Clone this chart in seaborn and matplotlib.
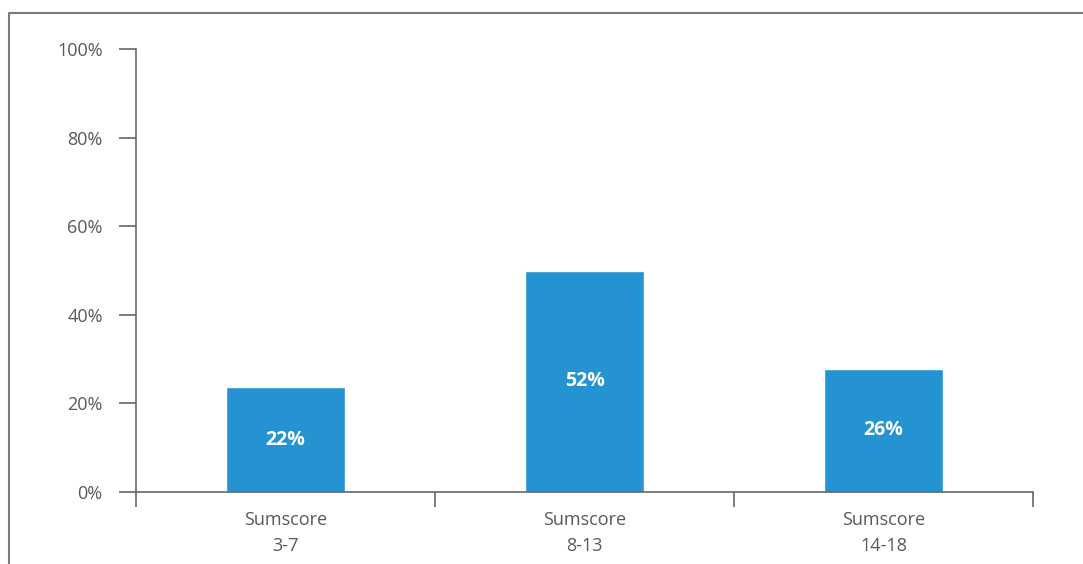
import matplotlib
matplotlib.use("Agg")
import matplotlib.pyplot as plt
import seaborn as sns
import pandas as pd
from matplotlib.lines import Line2D

categories = ["Sumscore\n3-7", "Sumscore\n8-13", "Sumscore\n14-18"]
values = [23.7, 49.9, 27.8]
value_labels = ["22%", "52%", "26%"]
yticks = [0, 20, 40, 60, 80, 100]
ytick_labels = ["0%", "20%", "40%", "60%", "80%", "100%"]

sns.set_theme(style="white")
plt.rcParams["font.family"] = ["Open Sans", "DejaVu Sans"]

W, H = 1083, 564
fig = plt.figure(figsize=(W / 100, H / 100), dpi=100)
ax = fig.add_axes([136 / W, (H - 492) / H, (1033 - 136) / W, (492 - 49) / H])

df = pd.DataFrame({"cat": categories, "val": values})
sns.barplot(data=df, x="cat", y="val", color="#2593d2", saturation=1,
            width=0.4, ax=ax)

axis_col = "#666666"
text_col = "#595959"
ax.set_xlim(-0.5, 2.5)
ax.set_ylim(0, 100)
ax.set_yticks(yticks)
ax.set_yticklabels(ytick_labels, fontsize=13, color=text_col)
ax.set_xticks(range(len(categories)))
ax.set_xticklabels(categories, fontsize=13, color=text_col, linespacing=1.55)
ax.set_xticks([-0.5, 0.5, 1.5, 2.5], minor=True)
ax.tick_params(axis="x", which="both", bottom=True)
ax.tick_params(axis="y", which="both", left=True)
ax.tick_params(axis="x", which="major", length=0, pad=14)
ax.tick_params(axis="x", which="minor", length=11, width=1.2, color=axis_col,
               direction="out")
ax.tick_params(axis="y", which="major", length=12, width=1.2, color=axis_col,
               direction="out", pad=12)
ax.set_xlabel("")
ax.set_ylabel("")
for s in ["top", "right"]:
    ax.spines[s].set_visible(False)
for s in ["left", "bottom"]:
    ax.spines[s].set_color(axis_col)
    ax.spines[s].set_linewidth(1.2)

for i, (v, lab) in enumerate(zip(values, value_labels)):
    ax.text(i, v / 2, lab, ha="center", va="center", color="white",
            fontsize=14, fontweight="bold")

# outer frame (top and left edges visible)
fx = 9 / W
fy = 1 - 12.5 / H
fig.add_artist(Line2D([fx, fx, 1.0], [0.0, fy, fy], transform=fig.transFigure,
                      color="#7a7a7a", linewidth=1.5))

fig.savefig("out.png", dpi=100, facecolor="white")
